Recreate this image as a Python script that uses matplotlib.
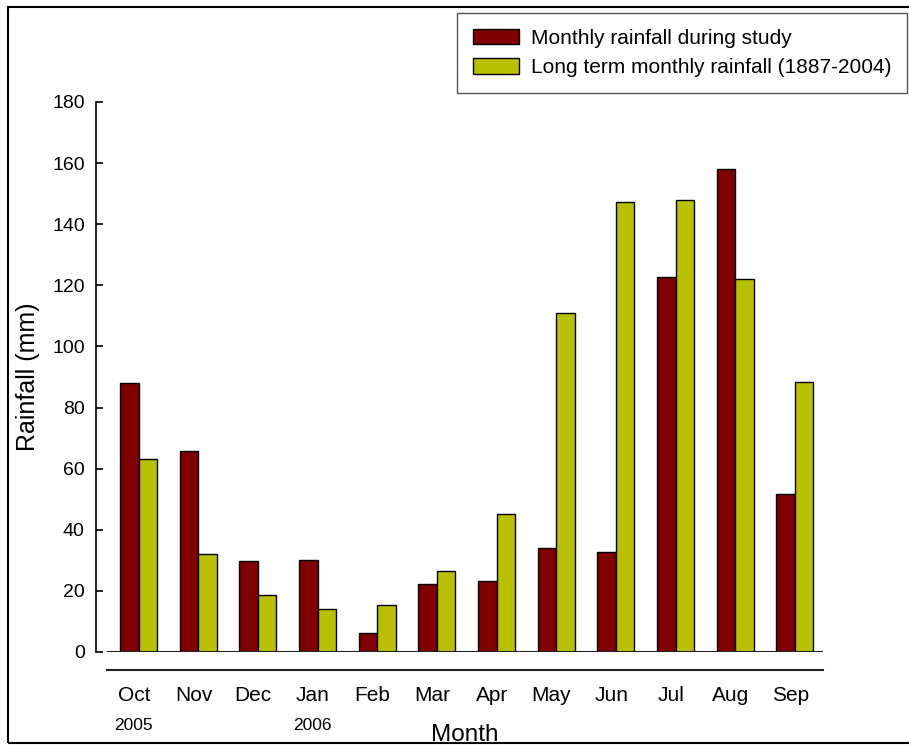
import matplotlib
matplotlib.use("Agg")
import matplotlib.pyplot as plt
import numpy as np
from matplotlib.patches import Rectangle

plt.rcParams['font.family'] = ['Liberation Sans', 'DejaVu Sans']

months = ["Oct", "Nov", "Dec", "Jan", "Feb", "Mar", "Apr", "May", "Jun", "Jul", "Aug", "Sep"]
study = [88.0, 65.8, 29.8, 30.1, 6.2, 22.3, 23.2, 34.0, 32.7, 122.7, 158.1, 51.7]
longterm = [63.2, 32.1, 18.7, 14.1, 15.4, 26.5, 45.2, 110.9, 147.3, 147.9, 122.1, 88.4]
years = {"Oct": "2005", "Jan": "2006"}

fig = plt.figure(figsize=(9.09, 7.45), dpi=100)
ax = fig.add_axes([107/909, 93/745, 716/909, 550/745])

x = np.arange(len(months))
w = 0.31
ax.bar(x - w/2, study, w, color="#800000", edgecolor="black", linewidth=1,
       label="Monthly rainfall during study")
ax.bar(x + w/2, longterm, w, color="#b9c000", edgecolor="black", linewidth=1,
       label="Long term monthly rainfall (1887-2004)")

ax.set_xlim(-0.53, 11.47)
ax.set_ylim(0, 180)
ax.axhline(0, color="#222222", lw=1.5, zorder=3)

ax.spines['top'].set_visible(False)
ax.spines['right'].set_visible(False)
ax.spines['left'].set_position(('outward', 8))
ax.spines['bottom'].set_position(('outward', 13))
ax.spines['bottom'].set_linewidth(1.5)
ax.spines['bottom'].set_color("#222222")
ax.spines['left'].set_linewidth(1.2)

ax.set_yticks(np.arange(0, 181, 20))
ax.tick_params(axis='y', direction='in', length=5, width=1.2, labelsize=14, pad=8)
# month labels sit slightly left of the bar pairs in the original
ax.set_xticks(x - 0.08)
ax.set_xticklabels(months)
ax.tick_params(axis='x', length=0, labelsize=15, pad=11.5)

for i, m in enumerate(months):
    if m in years:
        ax.text(i - 0.08, -0.133, years[m], transform=ax.get_xaxis_transform(),
                ha='center', va='center', fontsize=12.5)

ax.set_xlabel("Month", fontsize=17.5, va='center')
ax.xaxis.set_label_coords(0.5, -0.151)
ax.set_ylabel("Rainfall (mm)", fontsize=18, va='center')
ax.yaxis.set_label_coords(-0.110, 0.5)

leg = ax.legend(loc='upper right', bbox_to_anchor=(907/909, 1 - 13/745),
                bbox_transform=fig.transFigure, borderaxespad=0, fancybox=False,
                edgecolor="#555555", fontsize=15, handlelength=2.2,
                handleheight=0.77, handletextpad=0.58, labelspacing=0.5,
                borderpad=0.75, framealpha=1)
leg.get_frame().set_linewidth(1)

fig.patches.append(Rectangle((8/909, 2/745), 1.0, 1 - 9/745, transform=fig.transFigure,
                             fill=False, lw=1.5, edgecolor="black", clip_on=False))

fig.savefig("out.png", dpi=100)
